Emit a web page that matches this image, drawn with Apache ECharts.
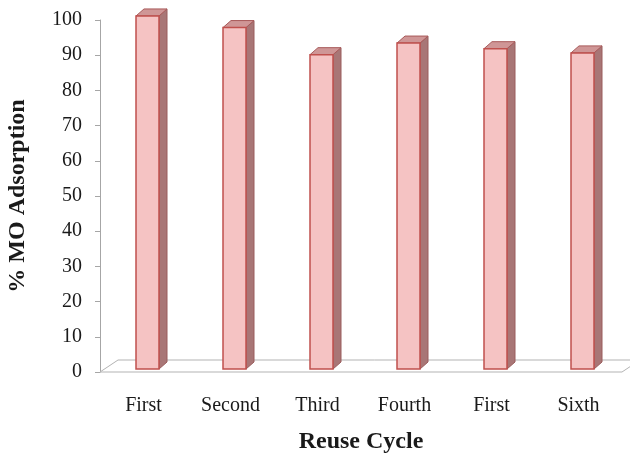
<!DOCTYPE html>
<html>
<head>
<meta charset="utf-8">
<script src="https://cdn.jsdelivr.net/npm/echarts@6/dist/echarts.min.js"></script>
<style>
  html, body { margin: 0; padding: 0; background: #fff; }
  #chart { width: 630px; height: 455px; }
</style>
</head>
<body>
<div id="chart"></div>
<script>
// reuse cycles and % MO adsorption
const cycles = ['First', 'Second', 'Third', 'Fourth', 'First', 'Sixth'];
const adsorption = [100.3, 97, 89.3, 92.6, 91, 89.8];
const yTicks = { min: 0, max: 100, interval: 10 };

(function() {
    const chart = echarts.init(document.getElementById('chart'));
    const serif = '"Liberation Serif", "Times New Roman", serif';

    // 3D look: front-face shift, bar depth, floor depth
    const shift = [4, -3];
    const depth = [8, -7];
    const floorDepth = [18, -12];
    const barWidth = 23;

    function renderFloor(params, api) {
        const cs = params.coordSys;
        const fl = [cs.x, cs.y + cs.height];
        const fr = [cs.x + cs.width, cs.y + cs.height];
        return {
            type: 'polygon',
            shape: { points: [fl, fr, [fr[0] + floorDepth[0], fr[1] + floorDepth[1]], [fl[0] + floorDepth[0], fl[1] + floorDepth[1]]] },
            style: { fill: '#fff', stroke: '#b3b3b3', lineWidth: 1 }
        };
    }

    function renderBar(params, api) {
        const base = api.coord([api.value(0), 0]);
        const top = api.coord([api.value(0), api.value(1)]);
        const x0 = base[0] - barWidth / 2 + shift[0];
        const x1 = x0 + barWidth;
        const y0 = base[1] + shift[1];
        const y1 = top[1] + shift[1];
        const dx = depth[0], dy = depth[1];
        return {
            type: 'group',
            children: [
                { type: 'polygon', shape: { points: [[x1, y1], [x1 + dx, y1 + dy], [x1 + dx, y0 + dy], [x1, y0]] },
                  style: { fill: '#a87676', stroke: '#9a5c5c', lineWidth: 1 } },
                { type: 'polygon', shape: { points: [[x0, y1], [x0 + dx, y1 + dy], [x1 + dx, y1 + dy], [x1, y1]] },
                  style: { fill: '#cf9696', stroke: '#a85a5a', lineWidth: 1 } },
                { type: 'rect', shape: { x: x0, y: y1, width: barWidth, height: y0 - y1 },
                  style: { fill: '#f5c3c3', stroke: '#c0504d', lineWidth: 1.5 } }
            ]
        };
    }

    const option = {
        animation: false,
        backgroundColor: '#fff',
        grid: { left: 100, right: 8, top: 20, bottom: 83, containLabel: false, outerBoundsMode: 'none' },
        xAxis: {
            type: 'category',
            data: cycles,
            name: 'Reuse Cycle',
            nameLocation: 'middle',
            nameGap: 58,
            nameTextStyle: { fontFamily: serif, fontSize: 24, fontWeight: 'bold', color: '#1a1a1a' },
            axisLine: { show: false },
            axisTick: { show: false },
            axisLabel: { fontFamily: serif, fontSize: 20, color: '#1a1a1a', margin: 24 }
        },
        yAxis: {
            type: 'value',
            min: yTicks.min,
            max: yTicks.max,
            interval: yTicks.interval,
            name: '% MO Adsorption',
            nameLocation: 'middle',
            nameRotate: 90,
            nameGap: 70,
            nameTextStyle: { fontFamily: serif, fontSize: 24, fontWeight: 'bold', color: '#1a1a1a' },
            axisLine: { show: true, lineStyle: { color: '#a6a6a6' } },
            axisTick: { show: true, length: 5, lineStyle: { color: '#a6a6a6' } },
            axisLabel: { fontFamily: serif, fontSize: 20, color: '#1a1a1a', margin: 18 },
            splitLine: { show: false }
        },
        series: [
            { type: 'custom', name: 'floor', z: 1, clip: false, renderItem: renderFloor, data: [[0]], silent: true },
            { type: 'custom', name: 'adsorption', z: 2, clip: false, renderItem: renderBar,
              encode: { x: 0, y: 1 },
              data: adsorption.map((v, i) => [i, v]) }
        ]
    };

    chart.setOption(option);
    window.addEventListener('resize', () => chart.resize());
})();
</script>
</body>
</html>
